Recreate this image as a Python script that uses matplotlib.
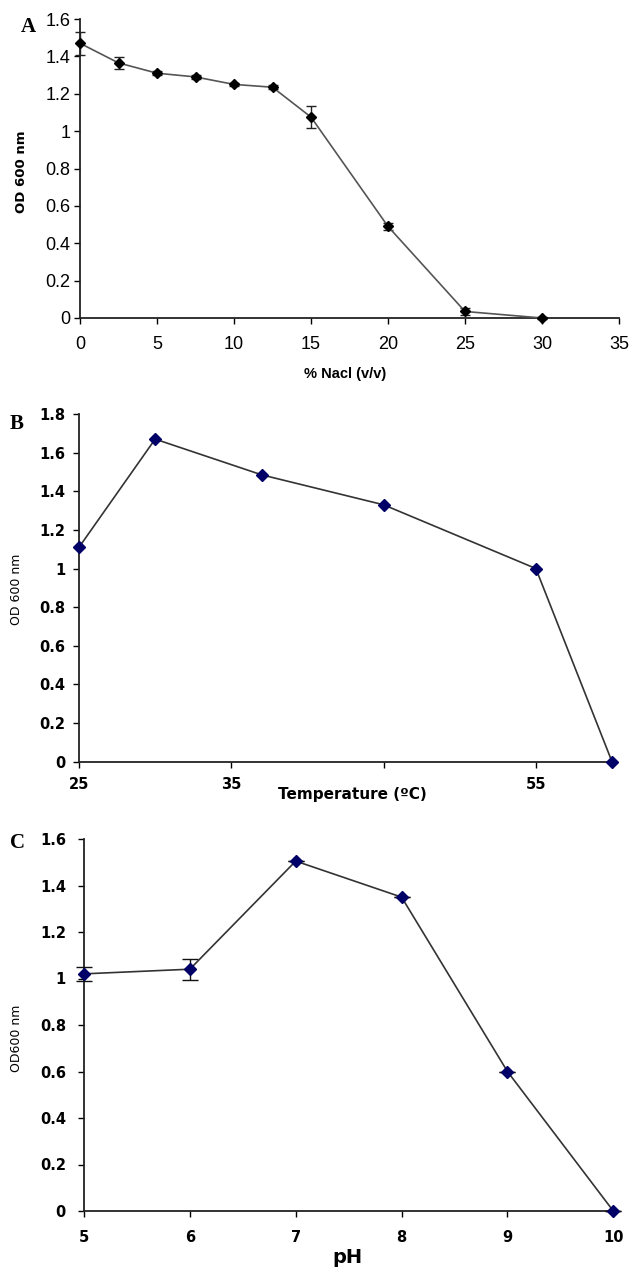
import numpy as np
import matplotlib
matplotlib.use("Agg")
import matplotlib.pyplot as plt
from matplotlib.ticker import FuncFormatter

# panel A : salt
nacl = [0, 2.5, 5, 7.5, 10, 12.5, 15, 20, 25, 30]
od_nacl = [1.47, 1.365, 1.31, 1.29, 1.25, 1.235, 1.075, 0.49, 0.035, 0.0]
err_nacl = [0.06, 0.03, 0.012, 0.01, 0.01, 0.01, 0.058, 0.02, 0.02, 0.005]

# panel B : temperature
temp = [25, 30, 37, 45, 55, 60]
od_temp = [1.11, 1.67, 1.485, 1.33, 1.0, 0.0]
temp_ticks = [25, 35, 45, 55]
temp_ticklabels = ['25', '35', '', '55']

# panel C : pH
ph = [5, 6, 7, 8, 9, 10]
od_ph = [1.02, 1.04, 1.505, 1.35, 0.6, 0.0]
err_ph = [0.03, 0.045, 0.0, 0.0, 0.0, 0.0]

W, H = 629, 1271
fig = plt.figure(figsize=(W/100, H/100), dpi=100)
fmt = FuncFormatter(lambda v, p: '%g' % round(v, 2))

def box(l, r, t, b):
    return [l/W, 1-b/H, (r-l)/W, (b-t)/H]

def clean(ax):
    ax.spines['top'].set_visible(False)
    ax.spines['right'].set_visible(False)
    for s in ['left', 'bottom']:
        ax.spines[s].set_linewidth(1.3)
        ax.spines[s].set_color('#222222')
    ax.yaxis.set_major_formatter(fmt)
    ax.patch.set_alpha(0)

narrow = ['Liberation Sans Narrow', 'Liberation Sans', 'DejaVu Sans']

# ---- A
axA = fig.add_axes(box(80, 619, 19, 318))
axA.errorbar(nacl, od_nacl, yerr=err_nacl, color='#555555', lw=1.2,
             marker='D', ms=5, mfc='black', mec='black', ecolor='#222222',
             elinewidth=1.0, capsize=3.5, clip_on=False, zorder=3)
axA.set_xlim(0, 35)
axA.set_ylim(0, 1.6)
axA.set_xticks(np.arange(0, 36, 5))
axA.set_yticks(np.arange(0, 1.61, 0.2))
clean(axA)
axA.tick_params(direction='out', length=4, width=1.0)
axA.tick_params(axis='x', pad=9)
axA.tick_params(axis='y', pad=3)
for t in axA.get_xticklabels() + axA.get_yticklabels():
    t.set_family(narrow)
    t.set_fontsize(13)
axA.set_xlabel('% Nacl (v/v)', family=narrow, fontsize=10.5, fontweight='bold')
axA.xaxis.set_label_coords(345/W, 1-367/H, transform=fig.transFigure)
axA.set_ylabel('OD 600 nm', fontsize=9.5, fontweight='bold')
axA.yaxis.set_label_coords(28/W, 1-172/H, transform=fig.transFigure)
fig.text(21/W, 1-27/H, 'A', family='Liberation Serif', fontsize=15,
         fontweight='bold', ha='left', va='center')

# ---- B
axB = fig.add_axes(box(79, 612, 414, 761.7))
axB.plot(temp, od_temp, color='#333333', lw=1.2, marker='D', ms=6,
         mfc='#000066', mec='#000066', clip_on=False, zorder=3)
axB.set_xlim(25, 60)
axB.set_ylim(0, 1.8)
axB.set_xticks(temp_ticks)
axB.set_xticklabels(temp_ticklabels)
axB.set_yticks(np.arange(0, 1.81, 0.2))
clean(axB)
axB.tick_params(direction='out', length=4, width=1.0, labelsize=10.5)
axB.tick_params(axis='x', pad=7)
axB.tick_params(axis='y', pad=6)
for t in axB.get_xticklabels() + axB.get_yticklabels():
    t.set_fontweight('bold')
axB.set_xlabel('Temperature (ºC)', fontsize=11, fontweight='bold')
axB.xaxis.set_label_coords(352/W, 1-787/H, transform=fig.transFigure)
axB.set_ylabel('OD 600 nm', fontsize=9)
axB.yaxis.set_label_coords(23/W, 1-589/H, transform=fig.transFigure)
fig.text(10/W, 1-424/H, 'B', family='Liberation Serif', fontsize=15,
         fontweight='bold', ha='left', va='center')

# ---- C
axC = fig.add_axes(box(84, 613.3, 839, 1211))
axC.errorbar(ph, od_ph, yerr=err_ph, color='#333333', lw=1.2,
             marker='D', ms=6, mfc='#000066', mec='#000066', ecolor='#111111',
             elinewidth=1.0, capsize=5.5, clip_on=False, zorder=3)
axC.set_xlim(5, 10)
axC.set_ylim(0, 1.6)
axC.set_xticks(ph)
axC.set_yticks(np.arange(0, 1.61, 0.2))
clean(axC)
axC.tick_params(direction='out', length=4, width=1.0, labelsize=10.5)
axC.tick_params(axis='x', pad=10)
axC.tick_params(axis='y', pad=9)
for t in axC.get_xticklabels() + axC.get_yticklabels():
    t.set_fontweight('bold')
axC.set_xlabel('pH', fontsize=14, fontweight='bold')
axC.xaxis.set_label_coords(347/W, 1-1248/H, transform=fig.transFigure)
axC.set_ylabel('OD600 nm', fontsize=9)
axC.yaxis.set_label_coords(23/W, 1-1038/H, transform=fig.transFigure)
fig.text(10/W, 1-843/H, 'C', family='Liberation Serif', fontsize=15,
         fontweight='bold', ha='left', va='center')

fig.savefig('out.png', dpi=100)
